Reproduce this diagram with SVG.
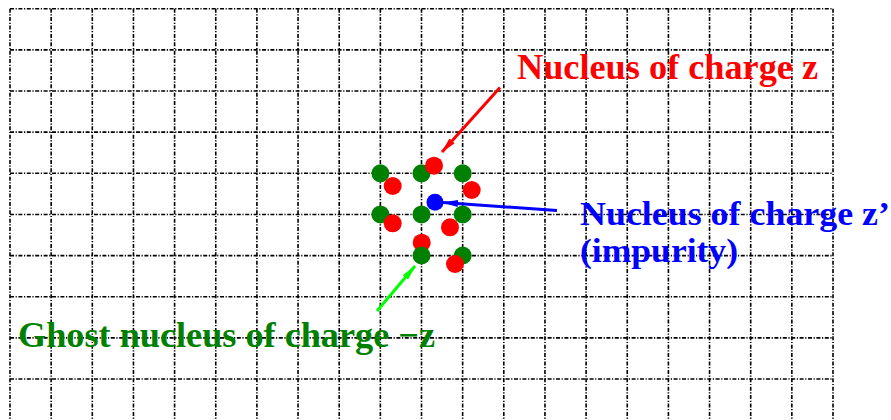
<svg xmlns="http://www.w3.org/2000/svg" width="891" height="420" viewBox="0 0 891 420">
<style>
.grid{fill:none;stroke:#000;stroke-width:1.6;stroke-dasharray:4 1.6 1.2 1.6}
.lbl{font-family:"Liberation Serif","Times New Roman",serif;font-weight:bold;font-size:36px}
.sm{font-size:33px}
.g{fill:#008000}.r{fill:#ff0000}.b{fill:#0000ff}
</style>
<defs>
<marker id="hr" markerUnits="userSpaceOnUse" markerWidth="16" markerHeight="8" refX="15" refY="4" orient="auto"><path d="M0,0.5 L16,4 L0,7.5 z" fill="#ff0000"/></marker>
<marker id="hb" markerUnits="userSpaceOnUse" markerWidth="16" markerHeight="8" refX="15" refY="4" orient="auto"><path d="M0,0.5 L16,4 L0,7.5 z" fill="#0000ff"/></marker>
<marker id="hg" markerUnits="userSpaceOnUse" markerWidth="16" markerHeight="8" refX="15" refY="4" orient="auto"><path d="M0,0.5 L16,4 L0,7.5 z" fill="#00ff00"/></marker>
</defs>
<rect width="891" height="420" fill="#fff"/>
<g id="grid">
<path class="grid" d="M10,8.7V420 M51.15,8.7V420 M92.3,8.7V420 M133.45,8.7V420 M174.6,8.7V420 M215.75,8.7V420 M256.9,8.7V420 M298.05,8.7V420 M339.2,8.7V420 M380.35,8.7V420 M421.5,8.7V420 M462.65,8.7V420 M503.8,8.7V420 M544.95,8.7V420 M586.1,8.7V420 M627.25,8.7V420 M668.4,8.7V420 M709.55,8.7V420 M750.7,8.7V420 M791.85,8.7V420 M833,8.7V420"/>
<path class="grid" d="M10,8.7H833 M10,49.85H833 M10,91H833 M10,132.15H833 M10,173.3H833 M10,214.45H833 M10,255.6H833 M10,296.75H833 M10,337.9H833 M10,379.05H833"/>
</g>
<g id="atoms">
<circle class="g" cx="380.4" cy="173.3" r="9"/>
<circle class="g" cx="421.5" cy="173.3" r="9"/>
<circle class="g" cx="462.7" cy="173.3" r="9"/>
<circle class="g" cx="380.4" cy="214.4" r="9"/>
<circle class="g" cx="421.5" cy="214.4" r="9"/>
<circle class="g" cx="462.7" cy="214.4" r="9"/>
<circle class="r" cx="421.7" cy="242.7" r="9"/>
<circle class="g" cx="421.5" cy="255.5" r="9"/>
<circle class="g" cx="462.7" cy="255.5" r="9"/>
<circle class="r" cx="392.7" cy="186" r="9"/>
<circle class="r" cx="434" cy="165.7" r="9"/>
<circle class="r" cx="471.7" cy="190" r="9"/>
<circle class="r" cx="392.7" cy="223.3" r="9"/>
<circle class="r" cx="450" cy="227.3" r="9"/>
<circle class="r" cx="455" cy="264" r="9"/>
<circle class="b" cx="435" cy="202.3" r="8.5"/>
</g>
<g id="connectors">
<line x1="500" y1="87.5" x2="442" y2="152" stroke="#ff0000" stroke-width="3" marker-end="url(#hr)"/>
<line x1="557" y1="210.5" x2="443" y2="202.5" stroke="#0000ff" stroke-width="3" marker-end="url(#hb)"/>
<line x1="377" y1="311" x2="415" y2="266" stroke="#00ff00" stroke-width="3" marker-end="url(#hg)"/>
</g>
<g id="label-z"><text class="lbl" x="517" y="79" fill="#ff0000" textLength="301" lengthAdjust="spacingAndGlyphs">Nucleus of charge z</text></g>
<g id="label-impurity"><text class="lbl sm" x="580" y="225" fill="#0000ff" textLength="310" lengthAdjust="spacingAndGlyphs">Nucleus of charge z’</text><text class="lbl sm" x="580" y="261.8" fill="#0000ff" textLength="158" lengthAdjust="spacingAndGlyphs">(impurity)</text></g>
<g id="label-ghost"><text class="lbl" x="18" y="347" fill="#008000" textLength="417" lengthAdjust="spacingAndGlyphs">Ghost nucleus of charge −z</text></g>
</svg>
